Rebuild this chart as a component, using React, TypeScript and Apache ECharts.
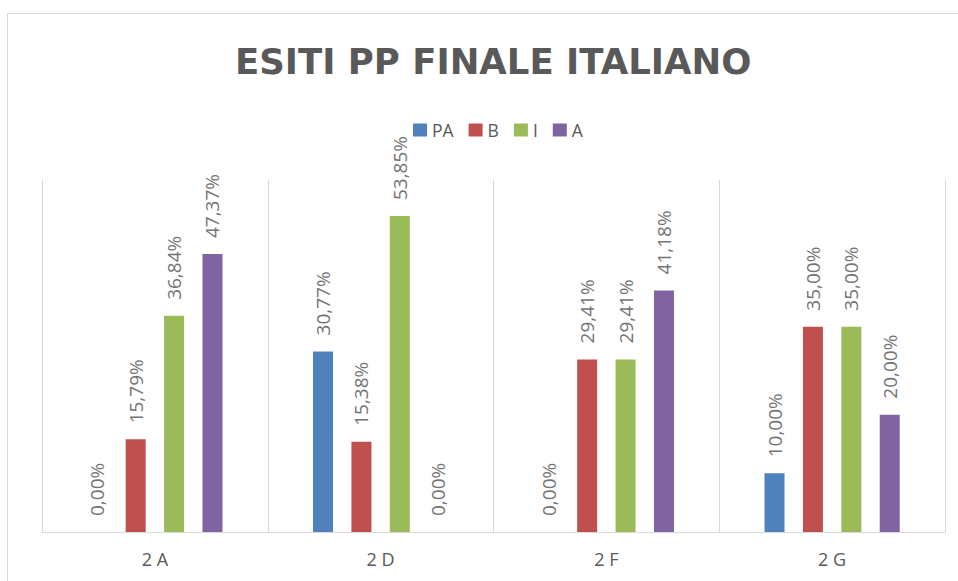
import React, { useEffect, useRef } from "react";
import * as echarts from "echarts";

const categories = ["2 A", "2 D", "2 F", "2 G"];
const seriesNames = ["PA", "B", "I", "A"];
const valuesPA = [0.0, 30.77, 0.0, 10.0];
const valuesB = [15.79, 15.38, 29.41, 35.0];
const valuesI = [36.84, 53.85, 29.41, 35.0];
const valuesA = [47.37, 0.0, 41.18, 20.0];
const colors = ["#4F81BD", "#C0504D", "#9BBB59", "#8064A2"];

export default function App() {
  const ref = useRef<HTMLDivElement>(null);
  useEffect(() => {
    document.body.style.margin = "0";
    const chart = echarts.init(ref.current!, undefined, { renderer: "svg" });
    const all = [valuesPA, valuesB, valuesI, valuesA];
    chart.setOption({
      animation: false,
      backgroundColor: "#ffffff",
      graphic: [
        {
          type: "rect",
          shape: { x: 7.5, y: 13.5, width: 1000, height: 700 },
          style: { fill: "none", stroke: "#d9d9d9", lineWidth: 1 },
          silent: true,
          z: -1,
        },
      ],
      title: {
        text: "ESITI PP FINALE ITALIANO",
        left: 230,
        top: 38,
        textStyle: {
          fontFamily: "DejaVu Sans",
          fontWeight: "bold",
          fontSize: 35.5,
          color: "#595959",
        },
      },
      legend: {
        data: seriesNames,
        top: 116,
        left: 408,
        itemWidth: 14,
        itemHeight: 13,
        itemGap: 15,
        icon: "rect",
        textStyle: { fontFamily: "Open Sans", fontSize: 17.5, color: "#595959" },
      },
      grid: { left: 42, right: 13, top: 180, bottom: 49 },
      xAxis: {
        type: "category",
        data: categories,
        axisLine: { lineStyle: { color: "#d9d9d9", width: 1 } },
        axisTick: { show: false },
        splitLine: { show: true, lineStyle: { color: "#d9d9d9", width: 1 } },
        axisLabel: {
          fontFamily: "Open Sans",
          fontSize: 18,
          color: "#595959",
          margin: 18,
        },
      },
      yAxis: {
        type: "value",
        min: 0,
        max: 60,
        show: false,
        splitLine: { show: false },
      },
      series: seriesNames.map((name, i) => ({
        name,
        type: "bar",
        data: all[i],
        barWidth: 20,
        barGap: "92%",
        itemStyle: { color: colors[i] },
        label: {
          show: true,
          position: "top",
          rotate: 90,
          align: "left",
          verticalAlign: "middle",
          distance: 16,
          fontFamily: "Open Sans",
          fontSize: 19,
          color: "#737373",
          formatter: (p: any) => p.value.toFixed(2).replace(".", ",") + "%",
        },
      })),
    });
    return () => chart.dispose();
  }, []);
  return <div ref={ref} style={{ width: 958, height: 581 }} />;
}
